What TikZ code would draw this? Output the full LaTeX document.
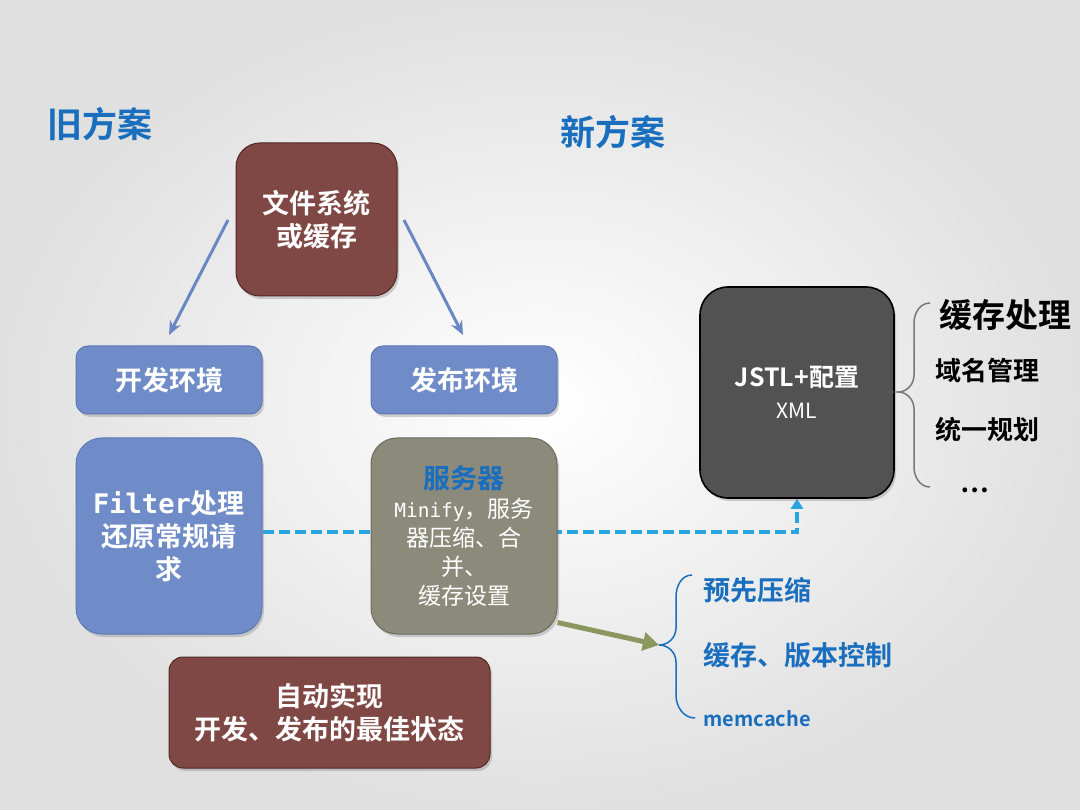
\documentclass[tikz,border=0pt]{standalone}
\usepackage{fontspec}
\setmainfont{Noto Sans CJK SC}[BoldFont={Noto Sans CJK SC Bold}]
\newfontfamily\monofnt{DejaVu Sans Mono}
\usetikzlibrary{shadows,backgrounds,arrows.meta}
\definecolor{brownbox}{RGB}{128,72,68}
\definecolor{brownedge}{RGB}{80,40,38}
\definecolor{bluebox}{RGB}{112,140,200}
\definecolor{blueedge}{RGB}{95,120,180}
\definecolor{graybox}{RGB}{140,138,122}
\definecolor{grayedge}{RGB}{110,108,95}
\definecolor{darkbox}{RGB}{82,82,82}
\definecolor{titleblue}{RGB}{25,110,190}
\definecolor{dashblue}{RGB}{40,165,225}
\definecolor{arrowblue}{RGB}{105,135,195}
\definecolor{olive}{RGB}{140,150,95}
\definecolor{bracegray}{RGB}{120,120,120}
\tikzset{
  box/.style={draw, line width=1pt, rounded corners=14pt, text=white, align=center,
    font=\fontsize{27}{33}\selectfont\bfseries, inner sep=2pt,
    drop shadow={shadow xshift=2pt, shadow yshift=-3pt, opacity=0.35}},
  brownnode/.style={box, fill=brownbox, draw=brownedge},
  bluenode/.style={box, fill=bluebox, draw=blueedge},
  graynode/.style={box, fill=graybox, draw=grayedge},
  darknode/.style={box, fill=darkbox, draw=black, line width=1.6pt},
  heading/.style={text=titleblue, font=\fontsize{35}{38}\selectfont\bfseries},
  flowarrow/.style={draw=arrowblue, line width=3pt, -{Stealth[length=14pt,width=12pt]}},
  item/.style={font=\fontsize{26}{30}\selectfont\bfseries},
  blueitem/.style={text=titleblue, font=\fontsize{27}{30}\selectfont\bfseries, anchor=west}
}
\begin{document}
\begin{tikzpicture}[x=1pt,y=1pt]
\useasboundingbox (0,0) rectangle (1080,-810);
\begin{scope}[on background layer]
  \shade[inner color=white, outer color=black!12] (0,0) rectangle (1080,-810);
\end{scope}

% headings
\node[heading] (old) at (100,-124) {旧方案};
\node[heading] (new) at (613,-132) {新方案};

% nodes
\node[brownnode, rounded corners=24pt, minimum width=161pt, minimum height=153pt] (fs) at (316.5,-219.5) {文件系统\\或缓存};
\node[bluenode, rounded corners=12pt, minimum width=186pt, minimum height=68pt] (dev) at (169,-380) {开发环境};
\node[bluenode, rounded corners=12pt, minimum width=186pt, minimum height=68pt] (pub) at (464,-380) {发布环境};
\node[bluenode, rounded corners=26pt, minimum width=186pt, minimum height=196pt] (filter) at (169,-536) {{\monofnt Filter}处理\\还原常规请\\求};
\node[graynode, rounded corners=26pt, minimum width=186pt, minimum height=196pt, font=\fontsize{23}{29}\selectfont] (server) at (464,-536)
  {{\fontsize{27}{32}\selectfont\bfseries\color{titleblue}服务器}\\{\monofnt\fontsize{19.5}{29}\selectfont Minify}，服务\\器压缩、合\\并、\\缓存设置};
\node[brownnode, rounded corners=14pt, minimum width=321pt, minimum height=111pt] (auto) at (329.5,-712.5) {自动实现\\开发、发布的最佳状态};
\node[darknode, rounded corners=28pt, minimum width=194pt, minimum height=211pt, font=\fontsize{25}{32}\selectfont] (jstl) at (797,-392.5)
  {{\bfseries JSTL+配置}\\{\fontsize{21}{24}\selectfont XML}};

% arrows from fs
\coordinate (fsL) at (228,-220);
\coordinate (fsR) at (404,-220);
\coordinate (devT) at (169,-335);
\coordinate (pubT) at (463,-335);
\draw[flowarrow] (fsL) -- (devT);
\draw[flowarrow] (fsR) -- (pubT);

% dashed connector
\coordinate (dturn) at (797,-532);
\begin{scope}[on background layer]
  \draw[dashblue, line width=3.5pt, dash pattern=on 11pt off 5pt, -{Triangle[length=10pt,width=12pt]}]
    (filter.east |- dturn) -- (dturn) -- (jstl.south);
\end{scope}

% right brace and items
\draw[bracegray, line width=1.5pt] (930,-303) to[out=180,in=90] (914,-323) -- (914,-375)
  to[out=-90,in=0] (898,-392) to[out=0,in=90] (914,-409) -- (914,-467) to[out=-90,in=180] (930,-487);
\node[item, font=\fontsize{33}{36}\selectfont\bfseries] (i1) at (1005,-315) {缓存处理};
\node[item] (i2) at (987,-371) {域名管理};
\node[item] (i3) at (987,-430) {统一规划};
\node[item] (i4) at (975,-490) {…};

% olive arrow and blue brace
\coordinate (bt) at (659,-645);
\draw[olive, line width=5pt, -{Triangle[length=16pt,width=18pt]}] (server.south east) ++(0,12) -- (bt);
\draw[titleblue, line width=1.5pt] (692,-575) to[out=180,in=90] (676,-597) -- (676,-628)
  to[out=-90,in=0] (659,-645) to[out=0,in=90] (676,-662) -- (676,-695) to[out=-90,in=180] (695,-718);
\node[blueitem] (b1) at (700,-590) {预先压缩};
\node[blueitem] (b2) at (700,-655) {缓存、版本控制};
\node[blueitem, font=\fontsize{20}{24}\selectfont\bfseries] (b3) at (700,-719) {memcache};
\end{tikzpicture}
\end{document}
